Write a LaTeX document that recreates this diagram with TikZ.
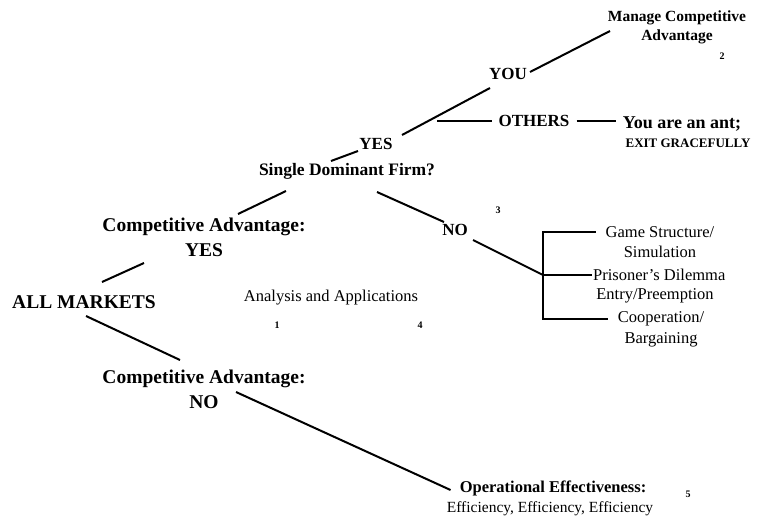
\documentclass[tikz,border=0pt]{standalone}
\usepackage{fontspec}
\setmainfont{Liberation Serif}
\begin{document}
\begin{tikzpicture}[x=1pt,y=-1pt,
    every node/.style={inner sep=1pt, align=center},
    big/.style={font=\fontsize{19.5}{25}\selectfont\bfseries},
    mid/.style={font=\fontsize{17}{20}\selectfont\bfseries},
    small/.style={font=\fontsize{15.5}{19}\selectfont\bfseries},
    plain/.style={font=\fontsize{16.5}{20}\selectfont},
    num/.style={font=\fontsize{10}{12}\selectfont\bfseries},
    link/.style={line width=2pt}]
    \useasboundingbox (0,0) rectangle (757,528);

    % Left part of the tree
    \node[big] (allm) at (84,302) {ALL MARKETS};
    \node[big] (cayes) at (204,237) {Competitive Advantage:\\YES};
    \node[big] (cano) at (204,389) {Competitive Advantage:\\NO};

    % Competitive advantage: yes
    \node[font=\fontsize{17.5}{20}\selectfont\bfseries] (sdf) at (347,171) {Single Dominant Firm?};
    \node[mid] (yes2) at (376,144) {YES};
    \node[mid] (you) at (508,74) {YOU};
    \node[mid] (oth) at (534,121) {OTHERS};
    \node[mid] (no) at (455,230) {NO};

    % Right column
    \node[small] (mca) at (677,27) {Manage Competitive\\Advantage};
    \node[font=\fontsize{18}{20}\selectfont\bfseries] (ant1) at (682,124) {You are an ant;};
    \node[font=\fontsize{13}{16}\selectfont\bfseries] (ant2) at (688,143) {EXIT GRACEFULLY};

    % Game theory branch
    \node[plain] (gs1) at (660,232) {Game Structure/};
    \node[plain] (gs2) at (660,252) {Simulation};
    \node[plain, anchor=west] (pd) at (592,275) {Prisoner's Dilemma};
    \node[plain] (ep) at (655,296) {Entry/Preemption};
    \node[plain] (co1) at (661,319) {Cooperation/};
    \node[plain] (co2) at (661,340) {Bargaining};
    \coordinate (fork) at (543,275);

    % Competitive advantage: no
    \node[font=\fontsize{16.5}{20}\selectfont\bfseries] (oe1) at (553,488) {Operational Effectiveness:};
    \node[font=\fontsize{15.5}{20}\selectfont] (oe2) at (550,509) {Efficiency, Efficiency, Efficiency};

    % Middle text and numbers
    \node[plain] (aa) at (331,298) {Analysis and Applications};
    \node[num] (n1) at (277,325) {1};
    \node[num] (n4) at (420,325) {4};
    \node[num] (n3) at (498,210) {3};
    \node[num] (n2) at (722,56) {2};
    \node[num] (n5) at (688,494) {5};

    % Branches
    \draw[link] ([shift={(18,-20)}]allm.center) -- ([shift={(-60,26)}]cayes.center);
    \draw[link] ([shift={(2,14)}]allm.center) -- ([shift={(-24,-29)}]cano.center);
    \draw[link] ([shift={(34,-23)}]cayes.center) -- ([shift={(-61,20)}]sdf.center);
    \draw[link] ([shift={(-16,-10)}]sdf.center) -- ([shift={(-18,7)}]yes2.center);
    \draw[link] ([shift={(26,-9)}]yes2.center) -- ([shift={(-18,14)}]you.center);
    \draw[link] ([shift={(22,-2)}]you.center) -- ([shift={(-67,4)}]mca.center);
    \draw[link] ([shift={(61,-23)}]yes2.center) -- ([xshift=-5pt]oth.west);
    \draw[link] ([xshift=6pt]oth.east) -- ([xshift=-6pt]oth.east -| ant1.west);
    \draw[link] ([shift={(30,21)}]sdf.center) -- ([shift={(-11,-8)}]no.center);
    \draw[link] ([shift={(18,10)}]no.center) -- (fork);
    \draw[link] ([shift={(32,3)}]cano.center) -- ([shift={(-8,2)}]oe1.west);

    % Bracket
    \draw[link] ([xshift=-9pt]gs1.west) -| (fork |- co1.west) -- ([xshift=-9pt]co1.west);
    \draw[link] (fork) -- (pd.west);
\end{tikzpicture}
\end{document}
